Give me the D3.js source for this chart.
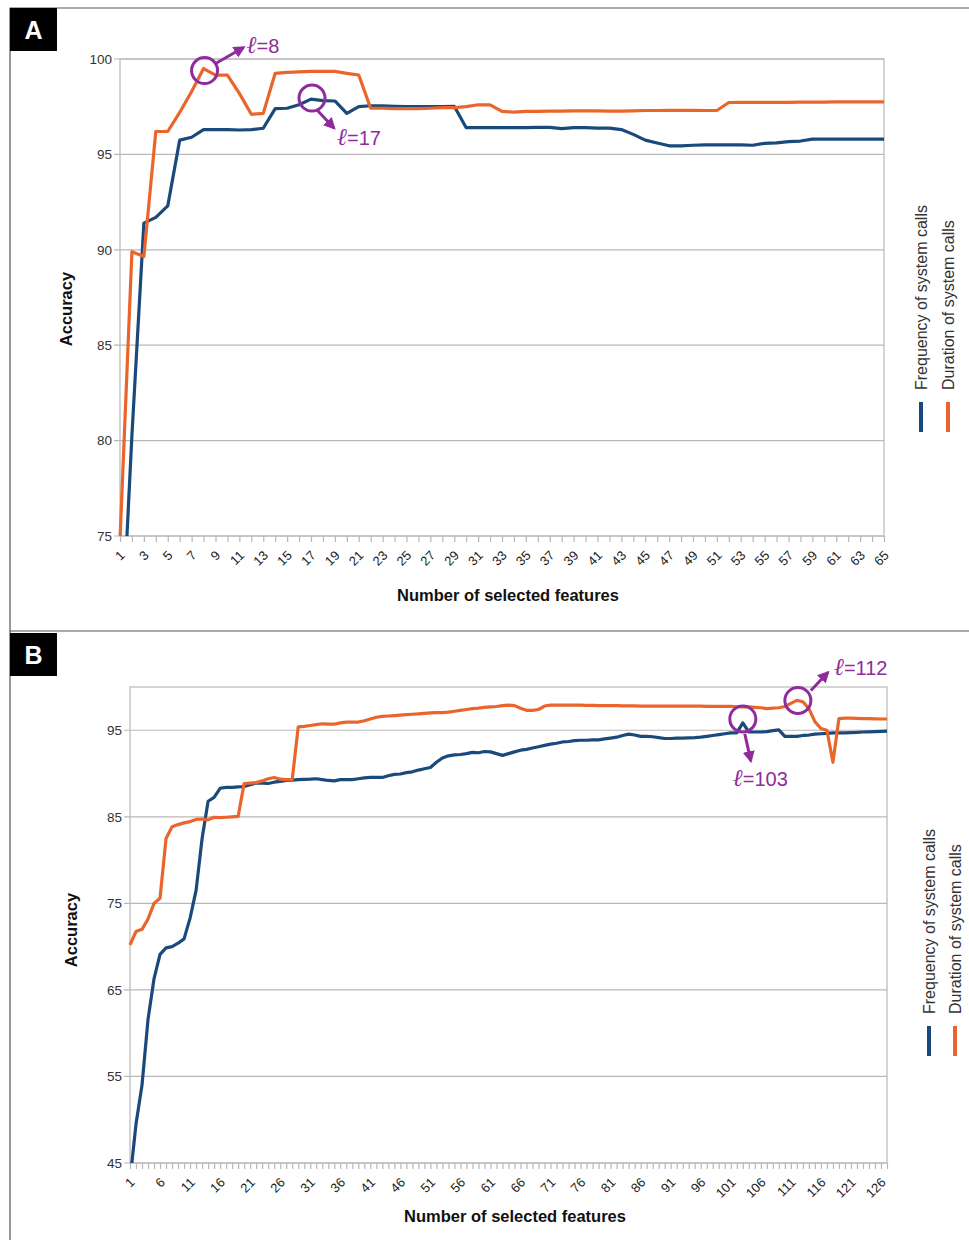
<!DOCTYPE html>
<html>
<head>
<meta charset="utf-8">
<script src="https://cdn.jsdelivr.net/npm/d3@7"></script>
<style>
  body { margin: 0; background: #fff; }
  text { font-family: "Liberation Sans", Arial, sans-serif; }
</style>
</head>
<body>
<div class="canvas"></div>
<script>
// data, panel A (features 1..65)
const featuresA = d3.range(1, 66)
const freqA = [67.6, 80.3, 91.4, 91.7, 92.3, 95.75, 95.9, 96.3, 96.3, 96.3,
  96.28, 96.3, 96.37, 97.4, 97.42, 97.6, 97.9, 97.82, 97.8, 97.15,
  97.5, 97.55, 97.55, 97.52, 97.5, 97.5, 97.5, 97.5, 97.52, 96.4,
  96.4, 96.4, 96.4, 96.4, 96.4, 96.42, 96.42, 96.35, 96.4, 96.4,
  96.38, 96.38, 96.3, 96.05, 95.75, 95.6, 95.45, 95.45, 95.48, 95.5,
  95.5, 95.5, 95.5, 95.48, 95.58, 95.6, 95.67, 95.7, 95.8, 95.8,
  95.8, 95.8, 95.8, 95.8, 95.8]
const durA = [74.8, 89.9, 89.65, 96.2, 96.2, 97.2, 98.3, 99.5, 99.15, 99.15,
  98.2, 97.1, 97.15, 99.25, 99.3, 99.33, 99.35, 99.35, 99.35, 99.25,
  99.16, 97.42, 97.42, 97.4, 97.4, 97.4, 97.42, 97.45, 97.45, 97.5,
  97.6, 97.6, 97.25, 97.22, 97.25, 97.25, 97.27, 97.27, 97.28, 97.28,
  97.28, 97.27, 97.27, 97.28, 97.3, 97.3, 97.31, 97.31, 97.31, 97.3,
  97.3, 97.72, 97.73, 97.73, 97.73, 97.73, 97.73, 97.74, 97.74, 97.74,
  97.75, 97.75, 97.75, 97.75, 97.75]
const yTicksA = [75, 80, 85, 90, 95, 100]

// data, panel B (features 1..127)
const featuresB = d3.range(1, 128)
const freqB = [43, 49.5, 54.0, 61.6, 66.3, 69.1, 69.85, 70.0, 70.4, 70.9,
  73.3, 76.5, 82.5, 86.8, 87.25, 88.3, 88.4, 88.4, 88.45, 88.5,
  88.7, 88.9, 88.9, 88.85, 89.0, 89.1, 89.2, 89.25, 89.3, 89.32,
  89.35, 89.4, 89.3, 89.2, 89.15, 89.3, 89.3, 89.3, 89.4, 89.5,
  89.55, 89.55, 89.55, 89.75, 89.9, 89.95, 90.1, 90.2, 90.4, 90.55,
  90.7, 91.3, 91.8, 92.05, 92.15, 92.2, 92.3, 92.45, 92.4, 92.55,
  92.5, 92.3, 92.1, 92.3, 92.5, 92.7, 92.8, 92.95, 93.1, 93.25,
  93.4, 93.5, 93.65, 93.7, 93.8, 93.85, 93.85, 93.9, 93.9, 94.0,
  94.1, 94.2, 94.4, 94.55, 94.45, 94.3, 94.3, 94.25, 94.15, 94.05,
  94.05, 94.1, 94.1, 94.12, 94.15, 94.2, 94.3, 94.4, 94.5, 94.6,
  94.7, 94.7, 95.85, 94.8, 94.8, 94.8, 94.85, 94.95, 95.05, 94.3,
  94.3, 94.3, 94.4, 94.45, 94.55, 94.6, 94.65, 94.7, 94.7, 94.7,
  94.72, 94.75, 94.8, 94.82, 94.85, 94.88, 94.9]
const durB = [70.2, 71.75, 72.0, 73.2, 75.0, 75.6, 82.5, 83.85, 84.1, 84.3,
  84.45, 84.7, 84.75, 84.65, 84.95, 84.9, 84.95, 85.0, 85.05, 88.85,
  88.9, 88.95, 89.15, 89.4, 89.55, 89.35, 89.3, 89.3, 95.4, 95.45,
  95.55, 95.65, 95.75, 95.7, 95.7, 95.85, 95.95, 95.95, 95.95, 96.1,
  96.3, 96.5, 96.6, 96.65, 96.7, 96.75, 96.8, 96.85, 96.9, 96.95,
  97.0, 97.05, 97.05, 97.1, 97.2, 97.3, 97.4, 97.5, 97.55, 97.65,
  97.7, 97.75, 97.85, 97.9, 97.85, 97.55, 97.3, 97.3, 97.4, 97.8,
  97.9, 97.9, 97.9, 97.9, 97.9, 97.9, 97.88, 97.88, 97.85, 97.85,
  97.85, 97.85, 97.82, 97.82, 97.82, 97.8, 97.8, 97.8, 97.8, 97.8,
  97.8, 97.78, 97.78, 97.78, 97.78, 97.78, 97.75, 97.75, 97.75, 97.75,
  97.75, 97.72, 97.7, 97.7, 97.65, 97.6, 97.5, 97.55, 97.6, 97.75,
  98.1, 98.45, 98.3, 97.5, 96.0, 95.2, 95.0, 91.3, 96.35, 96.4,
  96.4, 96.38, 96.35, 96.35, 96.32, 96.3, 96.3]
const yTicksB = [45, 55, 65, 75, 85, 95]

const seriesNames = ['Frequency of system calls', 'Duration of system calls']
const colors = ['#1a4a7c', '#e9652c']
const purple = '#8f2b9b'

const svg = d3.select('.canvas')
    .append('svg')
    .attr('width', 969)
    .attr('height', 1240)
    .style('display', 'block')

svg.append('defs').append('marker')
    .attr('id', 'arrow')
    .attr('viewBox', '0 0 10 10')
    .attr('refX', 8)
    .attr('refY', 5)
    .attr('markerWidth', 12)
    .attr('markerHeight', 12)
    .attr('markerUnits', 'userSpaceOnUse')
    .attr('orient', 'auto')
    .append('path')
    .attr('d', 'M0,0 L10,5 L0,10 z')
    .attr('fill', purple)

// panel frames
svg.append('path')
    .attr('d', 'M10,1240 L10,8 L969,8 M10,631 L969,631')
    .attr('fill', 'none')
    .attr('stroke', '#555')
    .attr('stroke-width', 1.2)

const drawPanel = (cfg) => {
    const g = svg.append('g')

    // letter box
    g.append('rect')
        .attr('x', 10).attr('y', cfg.boxY)
        .attr('width', 47).attr('height', 43)
        .attr('fill', '#000')
    g.append('text')
        .attr('x', 33.5).attr('y', cfg.boxY + 31)
        .attr('text-anchor', 'middle')
        .attr('fill', '#fff')
        .attr('font-size', 25)
        .attr('font-weight', 'bold')
        .text(cfg.letter)

    const x = d3.scalePoint()
        .domain(cfg.features)
        .range([cfg.left, cfg.right])
    const y = d3.scaleLinear()
        .domain(cfg.yDomain)
        .range([cfg.bottom, cfg.top])

    // grid
    g.selectAll('.grid')
        .data(cfg.yTicks)
        .enter()
        .append('line')
        .attr('x1', cfg.left - 6)
        .attr('x2', cfg.right)
        .attr('y1', d => y(d))
        .attr('y2', d => y(d))
        .attr('stroke', '#b8b8b8')
        .attr('stroke-width', 1.2)
    g.append('rect')
        .attr('x', cfg.left).attr('y', cfg.top)
        .attr('width', cfg.right - cfg.left)
        .attr('height', cfg.bottom - cfg.top)
        .attr('fill', 'none')
        .attr('stroke', '#b8b8b8')
        .attr('stroke-width', 1.2)

    // y axis
    const yAxis = d3.axisLeft(y)
        .tickValues(cfg.yTicks)
        .tickSize(0)
        .tickPadding(8)
    const yAxisGroup = g.append('g')
        .attr('transform', `translate(${cfg.left},0)`)
        .call(yAxis)
    yAxisGroup.select('.domain').remove()
    yAxisGroup.selectAll('text')
        .attr('font-size', 13.5)
        .attr('font-family', '"Liberation Sans", Arial, sans-serif')
        .attr('fill', '#333')

    // x axis
    const xAxis = d3.axisBottom(x)
        .tickSize(6)
        .tickFormat(d => (d - 1) % cfg.labelEvery === 0 ? d : '')
    const xAxisGroup = g.append('g')
        .attr('transform', `translate(0,${cfg.bottom})`)
        .call(xAxis)
    xAxisGroup.select('.domain').remove()
    xAxisGroup.selectAll('line')
        .attr('stroke', '#b8b8b8')
        .attr('stroke-width', 1.2)
    xAxisGroup.selectAll('text')
        .attr('font-size', 13)
        .attr('font-family', '"Liberation Sans", Arial, sans-serif')
        .attr('fill', '#222')
        .attr('text-anchor', 'end')
        .attr('y', 0)
        .attr('dy', '0.35em')
        .attr('transform', 'translate(2,17) rotate(-45)')

    // axis titles
    g.append('text')
        .attr('x', cfg.xTitle[0]).attr('y', cfg.xTitle[1])
        .attr('text-anchor', 'middle')
        .attr('font-size', 16.5)
        .attr('font-weight', 'bold')
        .attr('fill', '#111')
        .text('Number of selected features')
    g.append('text')
        .attr('transform', `translate(${cfg.yTitle[0]},${cfg.yTitle[1]}) rotate(-90)`)
        .attr('text-anchor', 'middle')
        .attr('font-size', 16.5)
        .attr('font-weight', 'bold')
        .attr('fill', '#111')
        .text('Accuracy')

    // lines
    g.append('clipPath')
        .attr('id', 'clip' + cfg.letter)
        .append('rect')
        .attr('x', cfg.left - 2).attr('y', cfg.top - 2)
        .attr('width', cfg.right - cfg.left + 4)
        .attr('height', cfg.bottom - cfg.top + 2)
    const line = d3.line()
        .x((d, i) => x(cfg.features[i]))
        .y(d => y(d))
    g.selectAll('.series')
        .data(cfg.series)
        .enter()
        .append('path')
        .attr('clip-path', `url(#clip${cfg.letter})`)
        .attr('d', d => line(d))
        .attr('fill', 'none')
        .attr('stroke', (d, i) => colors[i])
        .attr('stroke-width', 3.2)
        .attr('stroke-linejoin', 'round')

    // legend
    seriesNames.forEach((name, i) => {
        const lx = cfg.legendX[i]
        g.append('line')
            .attr('x1', lx).attr('x2', lx)
            .attr('y1', cfg.legendY + 12).attr('y2', cfg.legendY + 42)
            .attr('stroke', colors[i])
            .attr('stroke-width', 4)
        g.append('text')
            .attr('transform', `translate(${lx + 6},${cfg.legendY}) rotate(-90)`)
            .attr('font-size', 16)
            .attr('fill', '#333')
            .text(name)
    })

    // annotations
    cfg.notes.forEach(n => {
        const cx = x(n.feature) + n.shift[0]
        const cy = y(cfg.series[n.series][n.feature - 1]) + n.shift[1]
        g.append('circle')
            .attr('cx', cx).attr('cy', cy)
            .attr('r', 13)
            .attr('fill', 'none')
            .attr('stroke', purple)
            .attr('stroke-width', 3)
        g.append('line')
            .attr('x1', cx + n.arrow[0]).attr('y1', cy + n.arrow[1])
            .attr('x2', cx + n.arrow[2]).attr('y2', cy + n.arrow[3])
            .attr('stroke', purple)
            .attr('stroke-width', 3)
            .attr('marker-end', 'url(#arrow)')
        const t = g.append('text')
            .attr('x', cx + n.text[0]).attr('y', cy + n.text[1])
            .attr('font-size', n.size)
            .attr('fill', purple)
        t.append('tspan')
            .attr('font-family', '"DejaVu Serif", serif')
            .attr('font-style', 'italic')
            .attr('font-size', n.size + 4)
            .text('ℓ')
        t.append('tspan')
            .attr('font-family', '"Liberation Sans", Arial, sans-serif')
            .text('=' + n.feature)
    })
}

drawPanel({
    letter: 'A', boxY: 8,
    features: featuresA, series: [freqA, durA],
    left: 120, right: 884, top: 59, bottom: 536,
    yDomain: [75, 100], yTicks: yTicksA, labelEvery: 2,
    xTitle: [508, 601], yTitle: [72, 309],
    legendX: [921, 948], legendY: 390,
    notes: [
        { series: 1, feature: 8, shift: [1, 2], arrow: [11, -7, 39, -23], text: [42, -18], size: 20 },
        { series: 0, feature: 17, shift: [1, -1], arrow: [5, 12, 22, 30], text: [25, 47], size: 20 }
    ]
})

drawPanel({
    letter: 'B', boxY: 633,
    features: featuresB, series: [freqB, durB],
    left: 130, right: 887, top: 687, bottom: 1163,
    yDomain: [45, 100], yTicks: yTicksB, labelEvery: 5,
    xTitle: [515, 1222], yTitle: [77, 930],
    legendX: [929, 955], legendY: 1014,
    notes: [
        { series: 0, feature: 103, shift: [0, -4], arrow: [2, 15, 8, 42], text: [-10, 67], size: 20 },
        { series: 1, feature: 112, shift: [1, 0], arrow: [13, -10, 30, -28], text: [36, -25], size: 20 }
    ]
})
</script>
</body>
</html>
